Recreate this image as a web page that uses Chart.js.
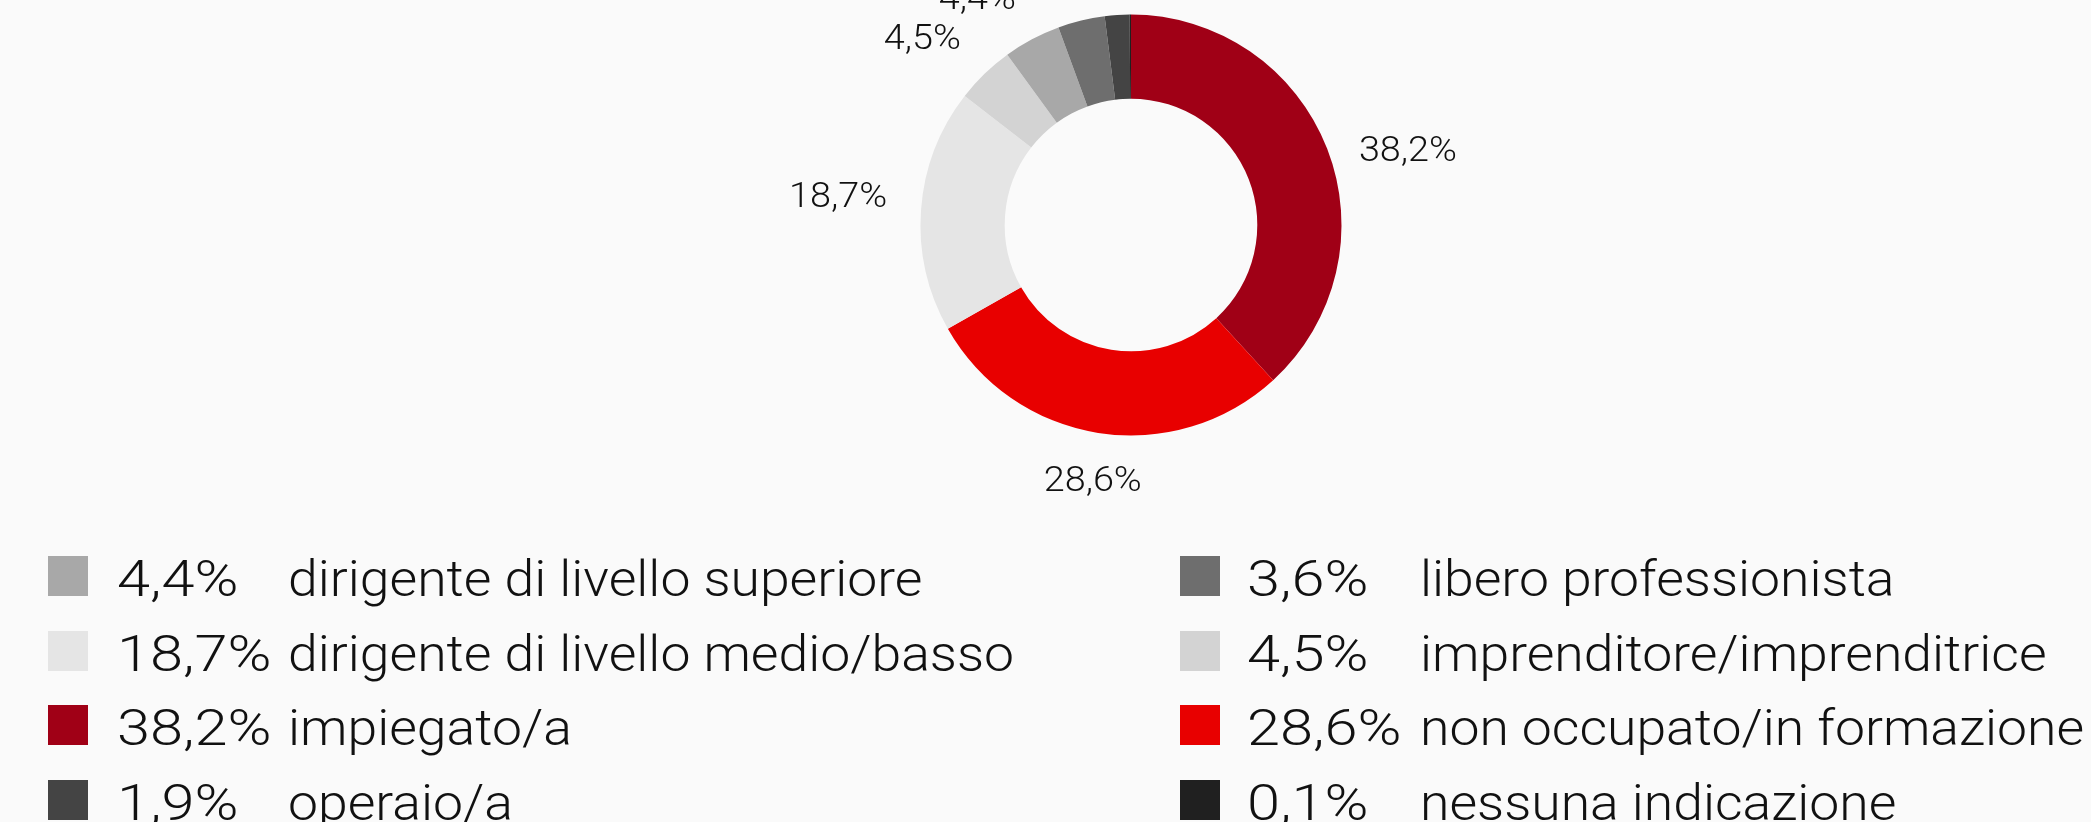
<!DOCTYPE html>
<html>
<head>
<meta charset="utf-8">
<script src="https://cdn.jsdelivr.net/npm/chart.js"></script>
<style>
  html, body { margin: 0; padding: 0; background: #fafafa; width: 2091px; height: 822px; overflow: hidden; }
  #chart-box { position: absolute; left: 731px; top: -75px; width: 800px; height: 600px; }
  .sw { position: absolute; width: 40px; height: 40px; }
  .txt { position: absolute; font-family: Roboto, "Liberation Sans", sans-serif; font-weight: 300; font-size: 50px;
         line-height: 40px; color: #111; white-space: nowrap; transform-origin: left center; }
  .num { transform: scaleX(1.19); }
  .lab { transform: scaleX(1.07); }
</style>
</head>
<body>
<div id="chart-box"><canvas id="donut"></canvas></div>
<div id="legend"></div>
<script>
// slices in clockwise order from the top
const categories = ['impiegato/a', 'non occupato/in formazione', 'dirigente di livello medio/basso',
    'imprenditore/imprenditrice', 'dirigente di livello superiore', 'libero professionista',
    'operaio/a', 'nessuna indicazione'];
const shares = [38.2, 28.6, 18.7, 4.5, 4.4, 3.6, 1.9, 0.1];
const colors = ['#a00016', '#e80000', '#e5e5e5', '#d3d3d3', '#a8a8a8', '#6e6e6e', '#444444', '#202020'];

// legend: two columns, index into the arrays above
const legendLeft = [4, 2, 0, 6];
const legendRight = [5, 3, 1, 7];

const minLabel = 4;

function fmt(v) {
    return v.toFixed(1).replace('.', ',') + '%';
}

const outsideLabels = {
    id: 'outsideLabels',
    afterDatasetsDraw(chart) {
        const ctx = chart.ctx;
        const meta = chart.getDatasetMeta(0);
        const capH = 25;
        meta.data.forEach(function (arc, i) {
            if (shares[i] < minLabel) return;
            const a = (arc.startAngle + arc.endAngle) / 2;
            const c = Math.cos(a), s = Math.sin(a);
            const r = arc.outerRadius + 34;
            const x = arc.x + r * c;
            let y = arc.y + r * s;
            let align = c > 0.3 ? 'left' : (c < -0.3 ? 'right' : 'center');
            if (s > 0.95) y += capH;           // bottom: hang below the point
            else if (s < -0.9) y += capH / 2;  // near the top: centred
            else if (c >= 0) y += capH;        // right side: top edge on the point
            // left side: baseline on the point
            ctx.save();
            ctx.font = '300 35px Roboto, "Liberation Sans", sans-serif';
            ctx.fillStyle = '#111';
            ctx.textBaseline = 'alphabetic';
            ctx.textAlign = align;
            ctx.translate(x, y);
            ctx.scale(1.08, 1);
            ctx.fillText(fmt(shares[i]), 0, 0);
            ctx.restore();
        });
    }
};

new Chart(document.getElementById('donut'), {
    type: 'doughnut',
    data: {
        labels: categories,
        datasets: [{
            data: shares,
            backgroundColor: colors,
            borderWidth: 0
        }]
    },
    options: {
        responsive: true,
        maintainAspectRatio: false,
        animation: false,
        cutout: '60%',
        layout: { padding: 89.5 },
        plugins: {
            legend: { display: false },
            tooltip: { enabled: false }
        }
    },
    plugins: [outsideLabels]
});

// html legend
const legend = document.getElementById('legend');
const rowTops = [556, 631, 705, 780];

function addColumn(list, swX, numX, labX) {
    list.forEach(function (idx, row) {
        const top = rowTops[row];
        const sw = document.createElement('div');
        sw.className = 'sw';
        sw.style.left = swX + 'px';
        sw.style.top = top + 'px';
        sw.style.background = colors[idx];
        legend.appendChild(sw);

        const num = document.createElement('div');
        num.className = 'txt num';
        num.style.left = numX + 'px';
        num.style.top = (top + 3) + 'px';
        num.textContent = fmt(shares[idx]);
        legend.appendChild(num);

        const lab = document.createElement('div');
        lab.className = 'txt lab';
        lab.style.left = labX + 'px';
        lab.style.top = (top + 3) + 'px';
        lab.textContent = categories[idx];
        legend.appendChild(lab);
    });
}

addColumn(legendLeft, 48, 117, 288);
addColumn(legendRight, 1180, 1247, 1420);
</script>
</body>
</html>
